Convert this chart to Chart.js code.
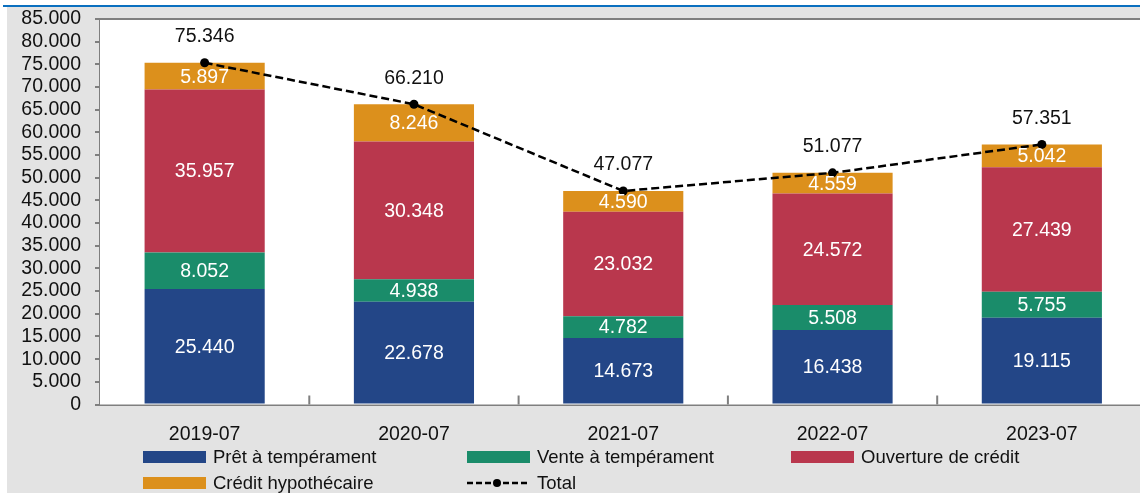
<!DOCTYPE html>
<html>
<head>
<meta charset="utf-8">
<script src="https://cdn.jsdelivr.net/npm/chart.js@4/dist/chart.umd.min.js"></script>
<style>
  html, body { margin:0; padding:0; width:1140px; height:493px; overflow:hidden; background:#fff; }
  .bg { position:absolute; left:7px; top:7px; right:0; bottom:0; background:#e3e3e3; }
  .topline { position:absolute; left:3px; right:0; top:5px; height:2px; background:#0a6fbf; }
  #chart { position:absolute; left:0; top:0; }
</style>
</head>
<body>
<div class="bg"></div>
<div class="topline"></div>
<canvas id="chart" width="1151" height="493"></canvas>
<script>
/* ===== DATA ===== */
const categories = ['2019-07', '2020-07', '2021-07', '2022-07', '2023-07'];
const pretTemperament   = [25440, 22678, 14673, 16438, 19115];
const venteTemperament  = [8052, 4938, 4782, 5508, 5755];
const ouvertureCredit   = [35957, 30348, 23032, 24572, 27439];
const creditHypothecaire = [5897, 8246, 4590, 4559, 5042];
const totals = [75346, 66210, 47077, 51077, 57351];
const yTicks = { min: 0, max: 85000, step: 5000 };

const FONT = "'Liberation Sans', Arial, sans-serif";
const AXIS_GRAY = '#7f7f7f';
const fmt = v => String(v).replace(/\B(?=(\d{3})+(?!\d))/g, '.');

// plot frame + inward category ticks + value labels + legend
const decor = {
  id: 'decor',
  beforeDatasetsDraw(chart) {
    const { ctx, chartArea: a, scales: { x } } = chart;
    ctx.save();
    ctx.fillStyle = '#fff';
    ctx.fillRect(a.left, a.top, a.right - a.left, a.bottom - a.top);
    ctx.strokeStyle = AXIS_GRAY; ctx.lineWidth = 2;
    ctx.beginPath(); ctx.moveTo(a.left, a.top); ctx.lineTo(a.right, a.top); ctx.stroke();
    // tick marks between categories, pointing up into the plot
    for (let i = 1; i < categories.length; i++) {
      const px = (x.getPixelForValue(i - 1) + x.getPixelForValue(i)) / 2;
      ctx.beginPath(); ctx.moveTo(px, a.bottom); ctx.lineTo(px, a.bottom - 9); ctx.stroke();
    }
    ctx.restore();
  },
  afterDatasetsDraw(chart) {
    const { ctx } = chart;
    ctx.save();
    ctx.font = '19.5px ' + FONT;
    ctx.textAlign = 'center'; ctx.textBaseline = 'middle';
    chart.data.datasets.forEach((ds, i) => {
      const meta = chart.getDatasetMeta(i);
      meta.data.forEach((el, j) => {
        if (ds.type === 'line') {
          ctx.fillStyle = '#111';
          ctx.fillText(fmt(ds.data[j]), el.x, el.y - 26);
        } else {
          ctx.fillStyle = '#fff';
          ctx.fillText(fmt(ds.data[j]), el.x, (el.y + el.base) / 2 + 1);
        }
      });
    });
    ctx.restore();
  },
  afterDraw(chart) {
    const { ctx } = chart;
    const cols = [143, 467, 791], rows = [457, 483];
    ctx.save();
    ctx.font = '18.5px ' + FONT;
    ctx.textBaseline = 'middle'; ctx.textAlign = 'left';
    chart.data.datasets.forEach((ds, i) => {
      const cx = cols[i % 3], cy = rows[Math.floor(i / 3)];
      if (ds.type === 'line') {
        ctx.strokeStyle = '#000'; ctx.lineWidth = 2.5; ctx.setLineDash([6, 3]);
        ctx.beginPath(); ctx.moveTo(cx, cy); ctx.lineTo(cx + 63, cy); ctx.stroke();
        ctx.setLineDash([]);
        ctx.fillStyle = '#000';
        ctx.beginPath(); ctx.arc(cx + 30, cy, 4, 0, Math.PI * 2); ctx.fill();
      } else {
        ctx.fillStyle = ds.backgroundColor;
        ctx.fillRect(cx, cy - 6, 63, 12);
      }
      ctx.fillStyle = '#111';
      ctx.fillText(ds.label, cx + 70, cy + 1);
    });
    ctx.restore();
  }
};

const barStyle = { categoryPercentage: 1, barPercentage: 0.574, order: 1, stack: 'a' };

new Chart(document.getElementById('chart'), {
  type: 'bar',
  data: {
    labels: categories,
    datasets: [
      { label: 'Prêt à tempérament', data: pretTemperament, backgroundColor: '#234687', ...barStyle },
      { label: 'Vente à tempérament', data: venteTemperament, backgroundColor: '#1a8c6a', ...barStyle },
      { label: 'Ouverture de crédit', data: ouvertureCredit, backgroundColor: '#b9374d', ...barStyle },
      { label: 'Crédit hypothécaire', data: creditHypothecaire, backgroundColor: '#dc901c', ...barStyle },
      { type: 'line', label: 'Total', data: totals, stack: 'total', order: 0,
        borderColor: '#000', borderWidth: 2.5, borderDash: [8, 4], tension: 0,
        pointRadius: 4.5, pointBackgroundColor: '#000', pointBorderWidth: 0, fill: false }
    ]
  },
  options: {
    responsive: false, animation: false,
    layout: { padding: { top: 19, left: 0, right: 0, bottom: 0 } },
    plugins: { legend: { display: false }, tooltip: { enabled: false } },
    scales: {
      x: {
        stacked: true,
        grid: { display: false },
        border: { color: AXIS_GRAY, width: 2 },
        ticks: { color: '#111', font: { family: FONT, size: 19.5 }, padding: 10, maxRotation: 0 },
        afterFit(s) { s.height = 88.5; s.paddingLeft = 0; s.paddingRight = 0; }
      },
      y: {
        stacked: true, min: yTicks.min, max: yTicks.max,
        grid: { drawOnChartArea: false, color: AXIS_GRAY, lineWidth: 2, tickLength: 5 },
        border: { color: AXIS_GRAY, width: 2 },
        ticks: { stepSize: yTicks.step, autoSkip: false, color: '#111', font: { family: FONT, size: 19.5 },
                 padding: 14, callback: v => fmt(v) },
        afterFit(s) { s.width = 100; s.paddingTop = 0; s.paddingBottom = 0; }
      }
    }
  },
  plugins: [decor]
});
</script>
</body>
</html>
